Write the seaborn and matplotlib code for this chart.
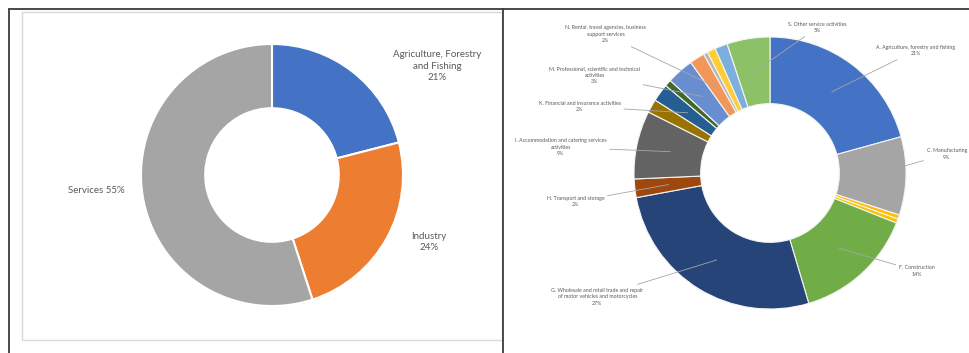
import matplotlib
matplotlib.use("Agg")
import matplotlib.pyplot as plt
import seaborn as sns
from matplotlib.lines import Line2D
from matplotlib.patches import Rectangle
import numpy as np

# ---- data: left donut ----
left_labels = ["Agriculture, Forestry\nand Fishing\n21%", "Industry\n24%", "Services 55%"]
left_values = [21, 24, 55]
left_colors = ["#4472C4", "#ED7D31", "#A5A5A5"]
left_label_pos = [(1.26, 0.83), (1.20, -0.51), (-1.34, -0.12)]

# ---- data: right donut (clockwise from top) ----
right_codes = ["A", "C", "D", "E", "F", "G", "H", "I", "J", "K", "L", "M", "N", "O", "P", "Q", "S"]
right_values = [20.7, 9.3, 0.5, 0.5, 14.4, 26.7, 2.2, 8.1, 1.6, 2.1, 0.8, 3.2, 1.8, 0.5, 1.0, 1.5, 5.1]
right_colors = ["#4472C4", "#A5A5A5", "#FFC000", "#FFC000", "#70AD47", "#264478", "#9E480E",
                "#636363", "#997300", "#255E91", "#43682B", "#698ED0", "#F1975A", "#B7B7B7",
                "#FFCD33", "#7CAFDD", "#8CC168"]
right_label_text = {
    "S": "S. Other service activities\n5%",
    "A": "A. Agriculture, forestry and fishing\n21%",
    "C": "C. Manufacturing\n9%",
    "F": "F. Construction\n14%",
    "G": "G. Wholesale and retail trade and repair\nof motor vehicles and motorcycles\n27%",
    "H": "H. Transport and storage\n2%",
    "I": "I. Accommodation and catering services\nactivities\n9%",
    "K": "K. Financial and insurance activities\n2%",
    "M": "M. Professional, scientific and technical\nactivities\n3%",
    "N": "N. Rental, travel agencies, business\nsupport services\n2%",
}
right_label_pos = {
    "S": (0.35, 1.07), "A": (1.07, 0.90), "C": (1.30, 0.14), "F": (1.08, -0.72),
    "G": (-1.27, -0.91), "H": (-1.43, -0.21), "I": (-1.54, 0.19), "K": (-1.40, 0.49),
    "M": (-1.29, 0.72), "N": (-1.21, 1.02),
}

sns.set_theme(style="white")
plt.rcParams["font.family"] = ["Lato", "DejaVu Sans"]

W, H = 970, 353
fig = plt.figure(figsize=(W / 100, H / 100), dpi=100)
fig.patch.set_facecolor("white")

def px_axes(cx, cy, r):
    return fig.add_axes([(cx - r) / W, (H - cy - r) / H, 2 * r / W, 2 * r / H])

# frames
fig.add_artist(Rectangle((22 / W, 1 - 340 / H), 480 / W, 328 / H, transform=fig.transFigure,
                         fill=False, edgecolor="#D9D9D9", lw=1.0))
line_c = "#3C3C3C"
fig.add_artist(Line2D([9 / W, 1], [1 - 9 / H, 1 - 9 / H], transform=fig.transFigure, color=line_c, lw=1.3))
fig.add_artist(Line2D([9 / W, 9 / W], [0, 1 - 9 / H], transform=fig.transFigure, color=line_c, lw=1.3))
fig.add_artist(Line2D([503 / W, 503 / W], [0, 1 - 9 / H], transform=fig.transFigure, color=line_c, lw=1.3))

# left donut
axL = px_axes(272, 175, 131)
axL.pie(left_values, colors=left_colors, startangle=90, counterclock=False, radius=1,
        wedgeprops=dict(width=0.49, edgecolor="white", linewidth=1.5))
axL.set_xlim(-1, 1); axL.set_ylim(-1, 1); axL.axis("off")
for txt, (x, y) in zip(left_labels, left_label_pos):
    axL.text(x, y, txt, ha="center", va="center", fontsize=7, color="#595959",
             linespacing=1.35, clip_on=False)

# right donut
axR = px_axes(770, 173, 136)
wedges, _ = axR.pie(right_values, colors=right_colors, startangle=90, counterclock=False, radius=1,
                    wedgeprops=dict(width=0.49, edgecolor="#F4F4F4", linewidth=0.8))
axR.set_xlim(-1, 1); axR.set_ylim(-1, 1); axR.axis("off")
for code, w in zip(right_codes, wedges):
    if code not in right_label_text:
        continue
    ang = np.deg2rad((w.theta1 + w.theta2) / 2)
    r = 0.75
    xy = (r * np.cos(ang), r * np.sin(ang))
    axR.annotate(right_label_text[code], xy=xy, xytext=right_label_pos[code],
                 ha="center", va="center", fontsize=3.8, color="#595959", linespacing=1.4,
                 annotation_clip=False,
                 arrowprops=dict(arrowstyle="-", color="#A6A6A6", lw=0.6, shrinkA=0, shrinkB=0))

fig.savefig("out.png", dpi=100, facecolor="white")
